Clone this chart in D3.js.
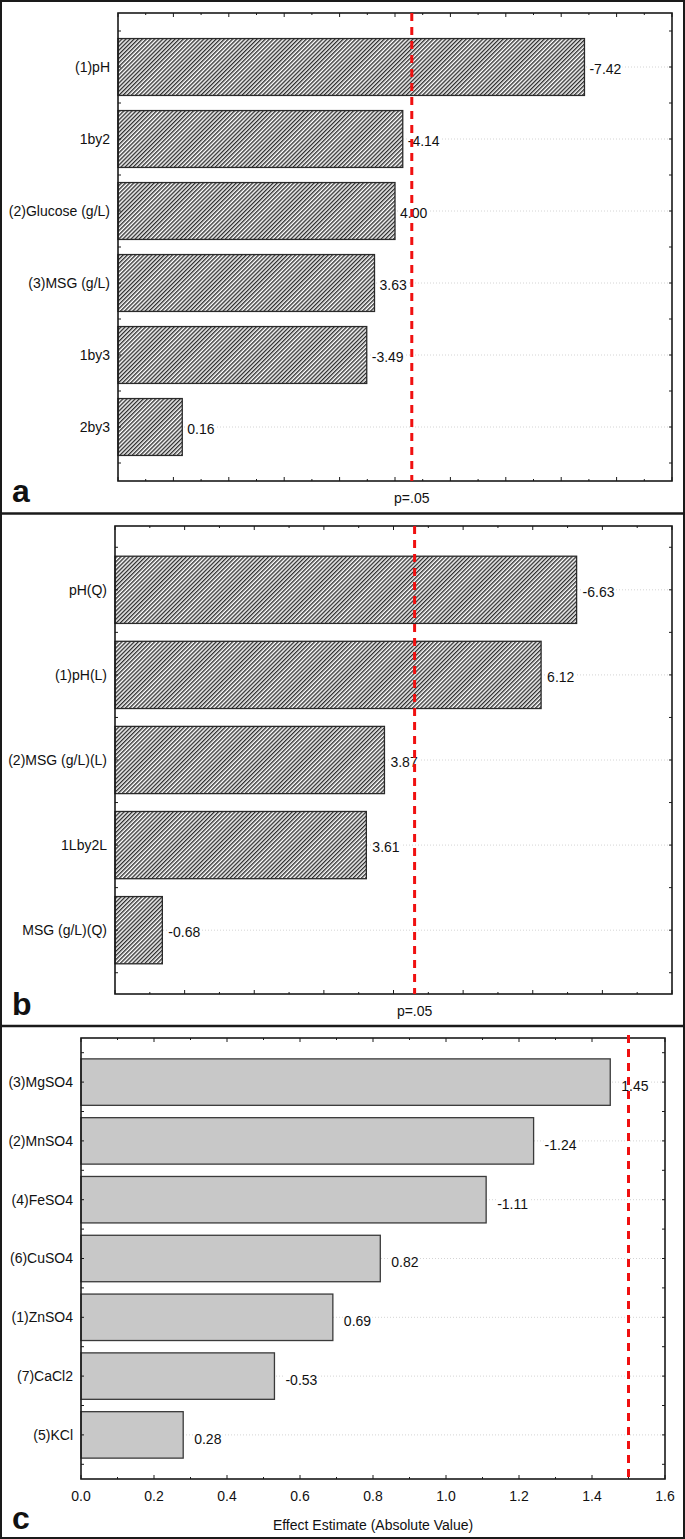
<!DOCTYPE html>
<html>
<head>
<meta charset="utf-8">
<script src="https://cdn.jsdelivr.net/npm/d3@7/dist/d3.min.js"></script>
<style>
  html, body { margin: 0; padding: 0; background: #fff; }
  svg { display: block; font-family: "Liberation Sans", Arial, sans-serif; }
</style>
</head>
<body>
<svg id="chart" width="685" height="1539"></svg>
<script>
// ---- data ----
const catsA = ["(1)pH", "1by2", "(2)Glucose (g/L)", "(3)MSG (g/L)", "1by3", "2by3"];
const valsA = [-7.42, -4.14, 4.00, 3.63, -3.49, 0.16];
const domainA = [-1, 9];
const critA = 4.303;

const catsB = ["pH(Q)", "(1)pH(L)", "(2)MSG (g/L)(L)", "1Lby2L", "MSG (g/L)(Q)"];
const valsB = [-6.63, 6.12, 3.87, 3.61, -0.68];
const domainB = [0, 8];
const critB = 4.303;

const catsC = ["(3)MgSO4", "(2)MnSO4", "(4)FeSO4", "(6)CuSO4", "(1)ZnSO4", "(7)CaCl2", "(5)KCl"];
const valsC = [1.45, -1.24, -1.11, 0.82, 0.69, -0.53, 0.28];
const domainC = [0, 1.6];
const ticksC = [0, 0.2, 0.4, 0.6, 0.8, 1.0, 1.2, 1.4, 1.6];
const critC = 1.5;

const critLabel = "p=.05";
const xTitleC = "Effect Estimate (Absolute Value)";
const panelLetters = ["a", "b", "c"];

// ---- drawing ----
const svg = d3.select("#chart");
const defs = svg.append("defs");
const pat = defs.append("pattern")
  .attr("id", "hatch").attr("patternUnits", "userSpaceOnUse")
  .attr("width", 2.9).attr("height", 2.9)
  .attr("patternTransform", "rotate(45)");
pat.append("rect").attr("width", 2.9).attr("height", 2.9).attr("fill", "#fff");
pat.append("line").attr("x1", 0.7).attr("y1", 0).attr("x2", 0.7).attr("y2", 2.9)
  .attr("stroke", "#2a2a2a").attr("stroke-width", 1.35);

function drawPanel(o) {
  const g = svg.append("g");
  const x = d3.scaleLinear().domain(o.domain).range([o.left, o.right]);
  const y = d3.scaleBand().domain(o.cats).range([o.top, o.bottom]).paddingInner(0).paddingOuter(0.25);
  const step = y.step();
  const barH = step * 0.79;
  const barOff = (step - barH) / 2;
  const base = x(o.domain[0]);

  // grid lines at category centres
  g.selectAll("line.grid").data(o.cats).join("line")
    .attr("x1", o.left).attr("x2", o.right)
    .attr("y1", d => y(d) + step / 2).attr("y2", d => y(d) + step / 2)
    .attr("stroke", "#d4d4d4").attr("stroke-width", 1).attr("stroke-dasharray", "1,2");

  // bars
  const data = o.cats.map((c, i) => ({ c, v: o.vals[i] }));
  g.selectAll("rect.bar").data(data).join("rect")
    .attr("x", base).attr("y", d => y(d.c) + barOff)
    .attr("width", d => x(Math.abs(d.v)) - base)
    .attr("height", barH)
    .attr("fill", o.fill).attr("stroke", o.barStroke).attr("stroke-width", 1.3);

  // value labels with white background
  const lab = g.selectAll("g.vl").data(data).join("g");
  const txt = lab.append("text")
    .attr("x", d => x(Math.abs(d.v)) + o.labelGap)
    .attr("y", d => y(d.c) + step / 2 + o.labelDy)
    .attr("dy", "0.35em").attr("font-size", 14).attr("fill", "#111")
    .text(d => d.v.toFixed(2));
  txt.each(function () {
    const b = this.getBBox();
    d3.select(this.parentNode).insert("rect", "text")
      .attr("x", b.x - 1).attr("y", b.y + 2).attr("width", b.width + 2).attr("height", b.height - 4)
      .attr("fill", "#fff");
  });

  // frame
  g.append("rect").attr("x", o.left).attr("y", o.top)
    .attr("width", o.right - o.left).attr("height", o.bottom - o.top)
    .attr("fill", "none").attr("stroke", "#1a1a1a").attr("stroke-width", 1.6);

  // x ticks top and bottom (inward)
  const minor = d3.range(o.domain[0], o.domain[1] + 1e-9, o.minorStep);
  minor.forEach(v => {
    const isMajor = Math.abs(v / o.majorStep - Math.round(v / o.majorStep)) < 1e-6;
    const len = isMajor ? 4 : 2;
    const xx = x(v);
    g.append("line").attr("x1", xx).attr("x2", xx).attr("y1", o.top).attr("y2", o.top + len)
      .attr("stroke", "#1a1a1a").attr("stroke-width", 1);
    g.append("line").attr("x1", xx).attr("x2", xx).attr("y1", o.bottom).attr("y2", o.bottom - len)
      .attr("stroke", "#1a1a1a").attr("stroke-width", 1);
  });

  // y ticks (centres and band boundaries) left and right
  const yt = [];
  o.cats.forEach(c => { yt.push(y(c)); yt.push(y(c) + step / 2); });
  yt.push(y(o.cats[o.cats.length - 1]) + step);
  yt.forEach(yy => {
    g.append("line").attr("x1", o.left).attr("x2", o.left + 3).attr("y1", yy).attr("y2", yy)
      .attr("stroke", "#1a1a1a").attr("stroke-width", 1);
    g.append("line").attr("x1", o.right).attr("x2", o.right - 3).attr("y1", yy).attr("y2", yy)
      .attr("stroke", "#1a1a1a").attr("stroke-width", 1);
  });

  // category labels
  g.selectAll("text.cat").data(o.cats).join("text")
    .attr("x", o.left - 8).attr("y", d => y(d) + step / 2).attr("dy", "0.35em")
    .attr("text-anchor", "end").attr("font-size", 14).attr("fill", "#111")
    .text(d => d);

  // x tick labels (panel c)
  if (o.tickLabels) {
    g.selectAll("text.xt").data(o.tickLabels).join("text")
      .attr("x", d => x(d)).attr("y", o.bottom + 22)
      .attr("text-anchor", "middle").attr("font-size", 14).attr("fill", "#111")
      .text(d => d.toFixed(1));
  }

  // critical line
  g.append("line").attr("x1", x(o.crit)).attr("x2", x(o.crit))
    .attr("y1", o.top - o.critExt).attr("y2", o.bottom)
    .attr("stroke", "#f01010").attr("stroke-width", 3).attr("stroke-dasharray", "8,6");

  if (o.critText) {
    g.append("text").attr("x", x(o.crit)).attr("y", o.bottom + 22)
      .attr("text-anchor", "middle").attr("font-size", 14).attr("fill", "#111")
      .text(o.critText);
  }
  if (o.title) {
    g.append("text").attr("x", (o.left + o.right) / 2).attr("y", o.bottom + 51)
      .attr("text-anchor", "middle").attr("font-size", 14).attr("fill", "#111")
      .text(o.title);
  }

  // panel letter
  g.append("text").attr("x", 12).attr("y", o.letterY)
    .attr("font-size", 32).attr("font-weight", "bold").attr("fill", "#111")
    .text(o.letter);
}

drawPanel({ cats: catsA, vals: valsA, domain: domainA, crit: critA, critText: critLabel,
  left: 118, right: 672, top: 13, bottom: 481, minorStep: 0.5, majorStep: 1,
  fill: "url(#hatch)", barStroke: "#2a2a2a", labelGap: 5, labelDy: 2, critExt: 0,
  letter: panelLetters[0], letterY: 502 });

drawPanel({ cats: catsB, vals: valsB, domain: domainB, crit: critB, critText: critLabel,
  left: 115, right: 672, top: 526, bottom: 994, minorStep: 0.5, majorStep: 1,
  fill: "url(#hatch)", barStroke: "#2a2a2a", labelGap: 6, labelDy: 2, critExt: 0,
  letter: panelLetters[1], letterY: 1015 });

drawPanel({ cats: catsC, vals: valsC, domain: domainC, crit: critC,
  left: 81, right: 665, top: 1038, bottom: 1479, minorStep: 0.1, majorStep: 0.2,
  fill: "#c8c8c8", barStroke: "#3a3a3a", labelGap: 11, labelDy: 4, critExt: 3,
  tickLabels: ticksC, title: xTitleC,
  letter: panelLetters[2], letterY: 1529 });

// outer border and dividers
svg.append("rect").attr("x", 1).attr("y", 1).attr("width", 683).attr("height", 1537)
  .attr("fill", "none").attr("stroke", "#1a1a1a").attr("stroke-width", 2);
[513.5, 1026].forEach(yy => {
  svg.append("line").attr("x1", 0).attr("x2", 685).attr("y1", yy).attr("y2", yy)
    .attr("stroke", "#1a1a1a").attr("stroke-width", 2.5);
});
</script>
</body>
</html>
